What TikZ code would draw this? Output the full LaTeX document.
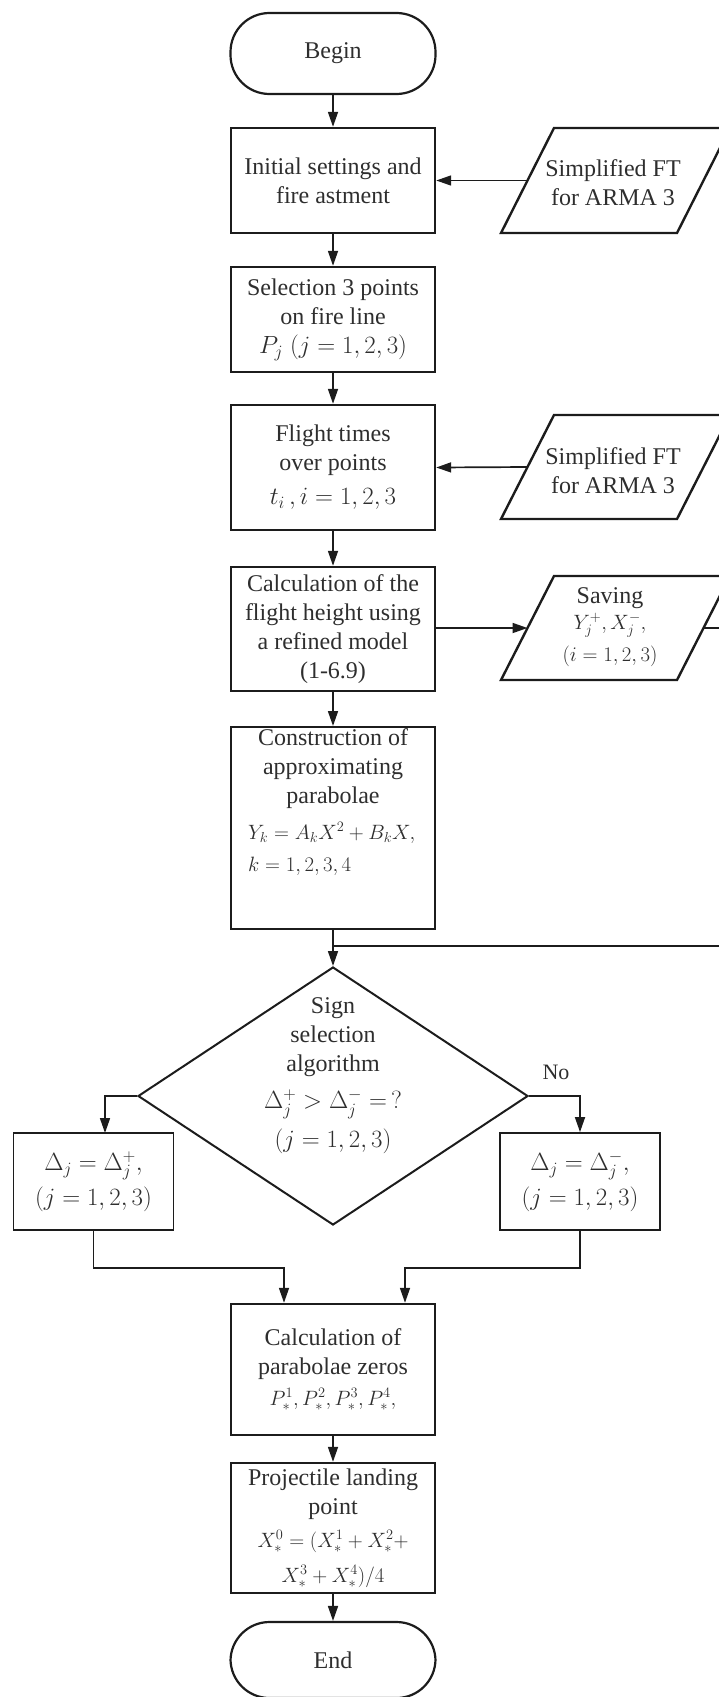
\documentclass[tikz,border=0pt]{standalone}
\usepackage{fontspec}
\setmainfont{Liberation Serif}
\usetikzlibrary{arrows.meta,shapes.geometric}
\definecolor{ink}{HTML}{1C1C1C}
\definecolor{txt}{HTML}{2E2E2E}
\begin{document}
\begin{tikzpicture}[x=1pt,y=-1pt,
  font=\fontsize{24}{29}\selectfont,
  every node/.append style={text=txt},
  box/.style={draw=ink, line width=2.4pt, minimum width=204pt, inner sep=0pt, align=center},
  sbox/.style={draw=ink, line width=1.8pt, minimum width=160pt, minimum height=97pt, inner sep=0pt, align=center},
  term/.style={draw=ink, line width=2.2pt, minimum width=205pt, rounded corners=39pt, inner sep=0pt},
  para/.style={draw=ink, line width=2.4pt, line join=miter},
  conn/.style={draw=ink, line width=1.7pt},
  arr/.style={conn, -{Triangle[length=15pt,width=10pt]}},
  small/.style={font=\fontsize{20}{26}\selectfont}
]
\useasboundingbox (0,0) rectangle (718,1697);

% terminals and process boxes
\node[term, minimum height=81pt] (begin) at (333,53.5) {Begin};
\node[box, minimum height=105pt] (init) at (333,180.5) {Initial settings and\\fire astment};
\node[box, minimum height=105pt] (sel) at (333,319.5) {Selection 3 points\\on fire line\\$P_j\;(j=1,2,3)$};
\node[box, minimum height=125pt] (flight) at (333,467.5) {Flight times\\over points\\[5pt]$t_i\,,i=1,2,3$};
\node[box, minimum height=124pt] (calc) at (333,629) {Calculation of the\\flight height using\\a refined model\\(1-6.9)};
\node[box, minimum height=202pt, anchor=north] (cons) at (333,726) {};
\node[anchor=north, align=center, inner sep=0pt] (consT) at (333,728) {Construction of\\approximating\\parabolae};
\node[anchor=north west, align=left, inner sep=0pt, small] (consF) at (248,822) {$Y_k=A_kX^2+B_kX,$\\[6pt]$k=1,2,3,4$};

% input parallelograms
\draw[para] (554,128) -- (730,128) -- (677,233) -- (501,233) -- cycle;
\node[align=center] (p1) at (613,183) {Simplified FT\\for ARMA 3};
\coordinate (p1w) at (527.5,180.5);
\draw[para] (554,415) -- (730,415) -- (677,519) -- (501,519) -- cycle;
\node[align=center] (p2) at (613,471) {Simplified FT\\for ARMA 3};
\coordinate (p2w) at (527.5,467);
\draw[para] (554,576) -- (730,576) -- (677,680) -- (501,680) -- cycle;
\node[align=center] (sav) at (610,627) {Saving\\[-3pt]{\fontsize{20}{25}\selectfont$Y_j^+,X_j^-,$}\\[3pt]{\fontsize{20}{25}\selectfont$(i=1,2,3)$}};
\coordinate (savW) at (527.5,628);
\coordinate (savE) at (703.5,628);
\coordinate (e1) at (730,628);
\coordinate (e2) at (730,946);
\coordinate (join) at (333,946);

% decision
\node[diamond, draw=ink, line width=2pt, minimum width=390pt, minimum height=258pt, inner sep=0pt] (dia) at (333,1096) {};
\node[align=center, inner sep=0pt] (diaT) at (333,1076) {Sign\\selection\\algorithm\\[8pt]$\Delta_j^+>\Delta_j^-=\,?$\\[10pt]$(j=1,2,3)$};
\node[font=\fontsize{22}{26}\selectfont] (no) at (556,1072) {No};

\node[sbox] (lbox) at (93.5,1181.5) {$\Delta_j=\Delta_j^+,$\\[6pt]$(j=1,2,3)$};
\node[sbox] (rbox) at (580,1181.5) {$\Delta_j=\Delta_j^-,$\\[6pt]$(j=1,2,3)$};
\coordinate (la) at (105,1133);
\coordinate (m1) at (284,1268);
\coordinate (m2) at (405,1268);

\node[box, minimum height=131pt] (zeros) at (333,1369.5) {Calculation of\\parabolae zeros\\[2pt]{\fontsize{21}{26}\selectfont$P_*^1,P_*^2,P_*^3,P_*^4,$}};
\node[box, minimum height=130pt] (proj) at (333,1528) {Projectile landing\\point\\[4pt]{\fontsize{20}{26}\selectfont$X_*^0=(X_*^1+X_*^2+$}\\[6pt]{\fontsize{20}{26}\selectfont$X_*^3+X_*^4)/4$}};
\node[term, minimum height=76pt] (end) at (333,1660) {End};

% connectors
\draw[arr] (begin) -- (init);
\draw[arr] (init) -- (sel);
\draw[arr] (sel) -- (flight);
\draw[arr] (flight) -- (calc);
\draw[arr] (calc) -- (cons);
\draw[arr] (cons) -- (dia);
\draw[arr] (p1w) -- (init.east);
\draw[arr] (p2w) -- (flight.east);
\draw[arr] (calc.east |- savW) -- (savW);
\draw[conn] (savE) -- (e1) -- (e2) -- (join);
\draw[arr] (dia.west) -| (la);
\draw[arr] (dia.east) -| (rbox.north);
\draw[arr] (lbox.south) |- (m1) -- (m1 |- zeros.north);
\draw[arr] (rbox.south) |- (m2) -- (m2 |- zeros.north);
\draw[arr] (zeros) -- (proj);
\draw[arr] (proj) -- (end);
\end{tikzpicture}
\end{document}
